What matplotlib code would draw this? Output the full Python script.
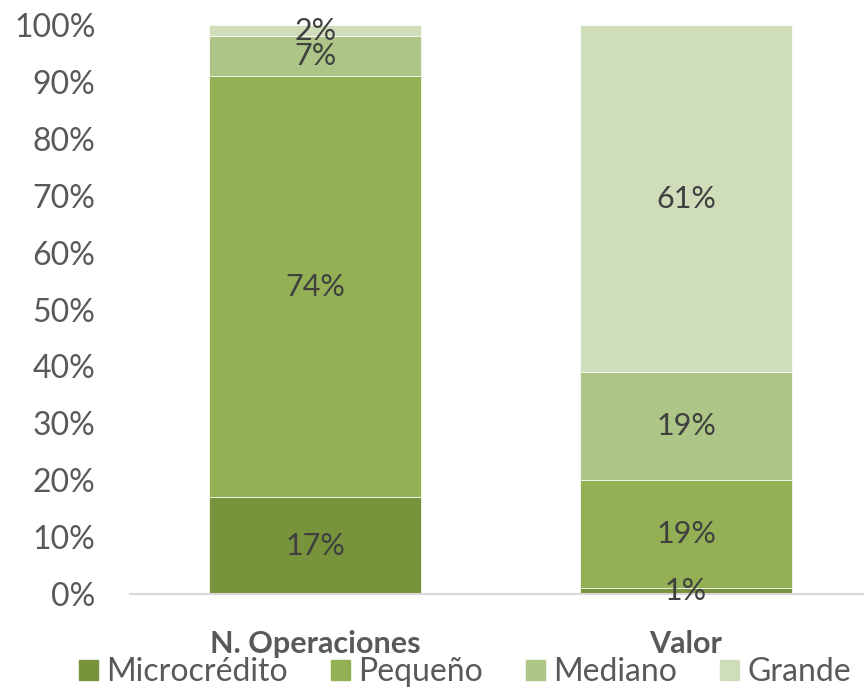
import matplotlib.pyplot as plt
from matplotlib.patches import Patch

plt.rcParams['font.family'] = ['Lato', 'DejaVu Sans']

categories = ['N. Operaciones', 'Valor']
series_names = ['Microcrédito', 'Pequeño', 'Mediano', 'Grande']
microcredito = [17, 1]
pequeno = [74, 19]
mediano = [7, 19]
grande = [2, 61]
colors = ['#77933C', '#93B055', '#ADC687', '#CFDDBB']

series = [microcredito, pequeno, mediano, grande]

fig = plt.figure(figsize=(8.64, 6.9), dpi=100)
ax = fig.add_axes([130 / 864, 96 / 690, 734 / 864, 569 / 690])

x = list(range(len(categories)))
bottoms = [0, 0]
for vals, name, col in zip(series, series_names, colors):
    fracs = [v / 100 for v in vals]
    ax.bar(x, fracs, width=0.572, bottom=bottoms, color=col, edgecolor='white',
           linewidth=0.5, label=name)
    for i, f in enumerate(fracs):
        ax.text(x[i], bottoms[i] + f / 2, f'{vals[i]}%', ha='center', va='center',
                fontsize=22, color='#404040')
    bottoms = [b + f for b, f in zip(bottoms, fracs)]

ax.set_xlim(-0.5, 1.48)
ax.set_ylim(0, 1)
ax.set_yticks([i / 10 for i in range(11)])
ax.set_yticklabels([f'{i * 10}%' for i in range(11)], fontsize=23, color='#595959')
ax.tick_params(axis='y', length=0, pad=25)
ax.set_xticks(x)
ax.set_xticklabels(categories, fontsize=22, fontweight='bold', color='#595959')
ax.tick_params(axis='x', length=0, pad=26)
for s in ['top', 'right', 'left']:
    ax.spines[s].set_visible(False)
ax.spines['bottom'].set_color('#D9D9D9')
ax.spines['bottom'].set_linewidth(1.5)

handles = [Patch(color=c, label=n) for c, n in zip(colors, series_names)]
fig.legend(handles=handles, loc='center', bbox_to_anchor=(465 / 864, 1 - 672 / 690),
           ncol=4, frameon=False, fontsize=23, handlelength=0.6, handleheight=0.6,
           handletextpad=0.25, columnspacing=1.35, labelcolor='#595959')

fig.savefig('out.png', dpi=100)
